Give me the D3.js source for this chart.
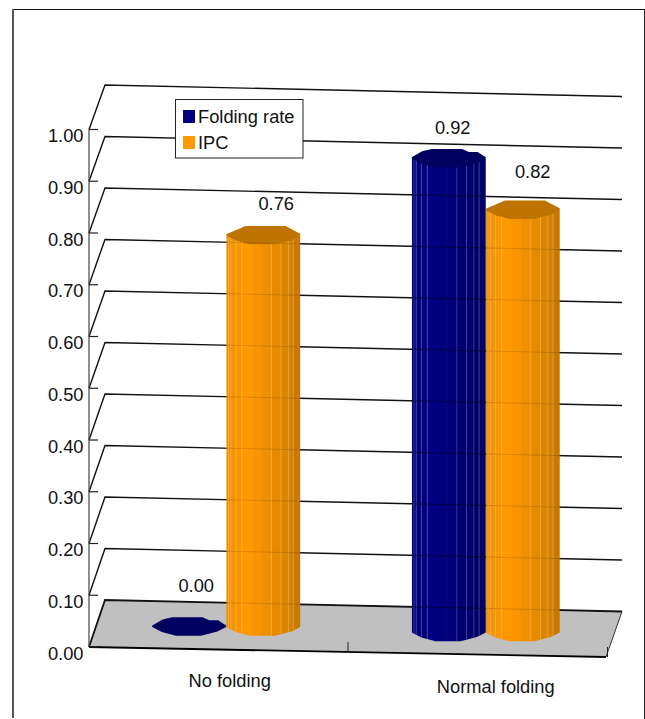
<!DOCTYPE html>
<html>
<head>
<meta charset="utf-8">
<script src="https://cdn.jsdelivr.net/npm/d3@7/dist/d3.min.js"></script>
<style>
  html, body { margin: 0; padding: 0; background: #fff; }
  svg { display: block; }
  text { font-family: "Liberation Sans", Arial, sans-serif; font-size: 18.3px; fill: #111; }
</style>
</head>
<body>
<script>
// Chart data
const categories = ["No folding", "Normal folding"];
const seriesNames = ["Folding rate", "IPC"];
const foldingRate = [0.00, 0.92];
const ipc = [0.76, 0.82];
const seriesValues = [foldingRate, ipc];
const seriesColors = ["#000080", "#ff9900"];
const valueTicks = [0, 0.1, 0.2, 0.3, 0.4, 0.5, 0.6, 0.7, 0.8, 0.9, 1.0];

const W = 645, H = 719;
const svg = d3.select("body").append("svg").attr("width", W).attr("height", H);
const fmt = d3.format(".2f");

// Scales: front axis, recessed back wall, column heights and horizontal bands
const y = d3.scaleLinear().domain([0, 1]).range([647, 129.5]);
const wallY = d3.scaleLinear().domain([0, 1]).range([600, 85]);
const columnHeight = d3.scaleLinear().domain([0, 1]).range([0, 515]);
const x = d3.scaleBand().domain(categories).range([96.5, 615.5]);
const inner = d3.scaleBand().domain(seriesNames).range([-74, 74]);
const barW = inner.bandwidth();

// Oblique box geometry
const frontLeft = 89, frontRight = 606;
const backLeft = 105, backRight = 622;
const frontDrop = 10, backDrop = 11.5;

// Frame
const frame = svg.append("g").attr("fill", "none");
frame.append("line").attr("x1", 13).attr("x2", 645).attr("y1", 9.5).attr("y2", 9.5).attr("stroke", "#111").attr("stroke-width", 1);
frame.append("line").attr("x1", 13).attr("x2", 13).attr("y1", 9).attr("y2", 718).attr("stroke", "#555").attr("stroke-width", 2);
frame.append("line").attr("x1", 644.5).attr("x2", 644.5).attr("y1", 9).attr("y2", 719).attr("stroke", "#222").attr("stroke-width", 1);

// Floor
svg.append("polygon")
  .attr("points", [
    [backLeft, wallY(0)],
    [backRight, wallY(0) + backDrop],
    [frontRight, y(0) + frontDrop],
    [frontLeft, y(0)]
  ].join(" "))
  .attr("fill", "#c0c0c0");

// Wall gridlines with their side-wall return
const gridPath = v => d3.line()([
  [frontLeft, y(v)],
  [backLeft, wallY(v)],
  [backRight, wallY(v) + backDrop]
]);
svg.append("g").selectAll("path").data(valueTicks).join("path")
  .attr("d", gridPath)
  .attr("fill", "none")
  .attr("stroke", "#111")
  .attr("stroke-width", d => d === 0 ? 1.8 : 1.4);

// Floor front edge, right edge and category ticks
svg.append("path")
  .attr("d", d3.line()([[frontLeft, y(0)], [frontRight, y(0) + frontDrop]]))
  .attr("stroke", "#000").attr("stroke-width", 1.8).attr("fill", "none");
svg.append("path")
  .attr("d", d3.line()([[frontRight, y(0) + frontDrop], [backRight, wallY(0) + backDrop]]))
  .attr("stroke", "#333").attr("stroke-width", 1).attr("fill", "none");
const frontY = px => y(0) + (px - frontLeft) * frontDrop / (frontRight - frontLeft);
const catBoundaries = [x(categories[1]), x.range()[1]];
svg.append("g").selectAll("line").data(catBoundaries).join("line")
  .attr("x1", d => d - 8).attr("x2", d => d - 8)
  .attr("y1", d => frontY(d - 8)).attr("y2", d => frontY(d - 8) - 10)
  .attr("stroke", "#222").attr("stroke-width", 1);

// Value axis
svg.append("line").attr("x1", frontLeft).attr("x2", frontLeft)
  .attr("y1", y(1)).attr("y2", y(0)).attr("stroke", "#444").attr("stroke-width", 1.2);
svg.append("g").selectAll("line").data(valueTicks).join("line")
  .attr("x1", frontLeft).attr("x2", frontLeft + 9)
  .attr("y1", d => y(d)).attr("y2", d => y(d))
  .attr("stroke", "#222").attr("stroke-width", 1.2);
svg.append("g").selectAll("text").data(valueTicks).join("text")
  .attr("x", 83.5).attr("y", d => y(d) + 12.5)
  .attr("text-anchor", "end")
  .text(fmt);

// Faceted column outlines, as fractions of the width and the rim's half-height
const rimBackBySeries = [
  [[0, -0.1], [0.14, -0.75], [0.27, -1], [0.68, -1], [0.77, -0.67], [0.89, -0.67], [1, -0.1]],
  [[0, -0.1], [0.26, -1], [0.8, -1], [1, -0.15]]
];
const rimFront = [[1, 0.05], [0.88, 0.55], [0.66, 1], [0.32, 1], [0.13, 0.6], [0, 0.05]];
const facetEdges = [0, 0.03, 0.06, 0.13, 0.21, 0.35, 0.47, 0.61, 0.74, 0.84, 0.91, 1];
const facetShade = [0.93, 0.95, 0.96, 0.98, 1, 0.97, 0.94, 0.90, 0.87, 0.84, 0.79];
const litEdges = [1, 2, 3, 4, 7, 8, 9, 10];
const rimRy = 9.2, topShade = 0.75;

const shade = (color, k) => {
  const c = d3.rgb(color);
  return d3.rgb(c.r * k, c.g * k, c.b * k).formatHex();
};
const baseY = cat => 626.5 + (x(cat) - x(categories[0])) * 5.5 / x.step();

const bars = [];
seriesNames.forEach((name, s) => {
  categories.forEach((cat, c) => {
    const left = x(cat) + x.bandwidth() / 2 + inner(name);
    bars.push({ name, cat, value: seriesValues[s][c], color: seriesColors[s], left, s, c });
  });
});

const defs = svg.append("defs");
const rimPts = (d, cy, pts) => pts.map(p => [d.left + p[0] * barW, cy + p[1] * rimRy]);
const barsG = svg.append("g");
const overlays = svg.append("g");

// Columns are painted left to right so neighbours overlap correctly
bars.slice().sort((a, b) => a.left - b.left).forEach((d, i) => {
  const base = baseY(d.cat);
  const topY = base - columnHeight(d.value);
  const g = barsG.append("g");
  d.topY = topY;
  if (d.value > 0) {
    const outline = rimPts(d, topY, [[0, 0.05], [1, 0.05]])
      .concat(rimPts(d, base, rimFront));
    const id = "body" + i;
    defs.append("clipPath").attr("id", id).append("polygon").attr("points", outline.join(" "));
    const body = g.append("g").attr("clip-path", `url(#${id})`);
    body.selectAll("rect").data(facetShade).join("rect")
      .attr("x", (k, j) => d.left + facetEdges[j] * barW)
      .attr("width", (k, j) => (facetEdges[j + 1] - facetEdges[j]) * barW + 0.4)
      .attr("y", topY - 2).attr("height", base - topY + 14)
      .attr("fill", k => shade(d.color, k));
    body.selectAll("line").data(litEdges).join("line")
      .attr("x1", j => d.left + facetEdges[j] * barW)
      .attr("x2", j => d.left + facetEdges[j] * barW)
      .attr("y1", topY).attr("y2", base + 12)
      .attr("stroke", "#fff").attr("stroke-opacity", 0.22).attr("stroke-width", 1);
    // Gridlines show faintly through the column body
    overlays.append("g").attr("clip-path", `url(#${id})`)
      .selectAll("path").data(valueTicks).join("path")
      .attr("d", gridPath).attr("fill", "none")
      .attr("stroke", "#000")
      .attr("stroke-opacity", d.s === 0 ? 0.45 : 0.12)
      .attr("stroke-width", 1);
  }
  // Column cap
  g.append("polygon")
    .attr("points", rimPts(d, topY, rimBackBySeries[d.s].concat(rimFront)).join(" "))
    .attr("fill", shade(d.color, topShade));
});

// Value labels, nudged off the columns
const labelNudge = { "Folding rate": [[7, -34.5], [4, -24]], "IPC": [[13, -25.5], [10, -32]] };
svg.append("g").selectAll("text").data(bars).join("text")
  .attr("x", d => d.left + barW / 2 + labelNudge[d.name][d.c][0])
  .attr("y", d => d.topY + labelNudge[d.name][d.c][1])
  .attr("text-anchor", "middle")
  .text(d => fmt(d.value));

// Category labels
const catLabelNudge = [[3.5, 60.5], [10, 60.5]];
svg.append("g").selectAll("text").data(categories).join("text")
  .attr("x", (d, i) => x(d) + x.bandwidth() / 2 + catLabelNudge[i][0])
  .attr("y", (d, i) => baseY(d) + catLabelNudge[i][1])
  .attr("text-anchor", "middle")
  .text(d => d);

// Legend
const legend = svg.append("g");
legend.append("rect").attr("x", 175.5).attr("y", 99.5).attr("width", 127.5).attr("height", 58.5)
  .attr("fill", "#fff").attr("stroke", "#222").attr("stroke-width", 1);
const legendRow = d3.scalePoint().domain(seriesNames).range([110, 136]);
legend.selectAll("rect.sw").data(seriesNames).join("rect").attr("class", "sw")
  .attr("x", 183).attr("y", d => legendRow(d)).attr("width", 12).attr("height", 13)
  .attr("fill", (d, i) => seriesColors[i]);
legend.selectAll("text").data(seriesNames).join("text")
  .attr("x", 198).attr("y", d => legendRow(d) + 13)
  .text(d => d);
</script>
</body>
</html>
